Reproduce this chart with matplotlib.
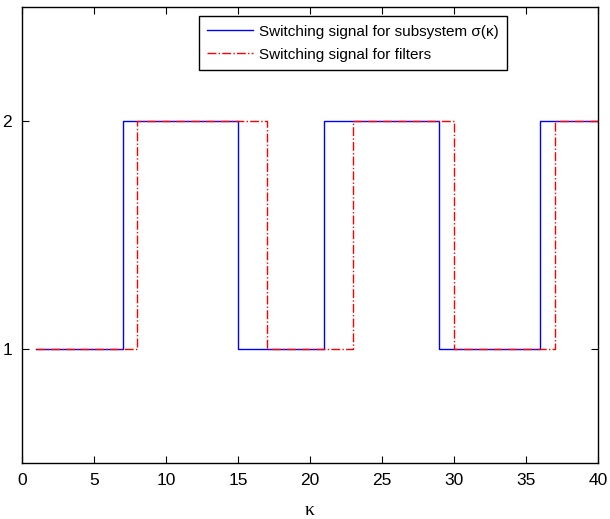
import matplotlib
matplotlib.use("Agg")
from matplotlib import pyplot as plt

k = list(range(1, 41))
sigma = [1, 1, 1, 1, 1, 1,
         2, 2, 2, 2, 2, 2, 2, 2,
         1, 1, 1, 1, 1, 1,
         2, 2, 2, 2, 2, 2, 2, 2,
         1, 1, 1, 1, 1, 1, 1,
         2, 2, 2, 2, 2]
filters = [1, 1, 1, 1, 1, 1, 1,
           2, 2, 2, 2, 2, 2, 2, 2, 2,
           1, 1, 1, 1, 1, 1,
           2, 2, 2, 2, 2, 2, 2,
           1, 1, 1, 1, 1, 1, 1,
           2, 2, 2, 2]
xticks = [0, 5, 10, 15, 20, 25, 30, 35, 40]
yticks = [1, 2]

plt.rcParams['font.family'] = ['Liberation Sans', 'DejaVu Sans']

fig = plt.figure(figsize=(6.1, 5.19), dpi=100)
ax = fig.add_axes([0.036, 0.108, 0.944, 0.8785])

ax.plot(k, sigma, '-', color='blue', lw=1.0, drawstyle='steps-post',
        label='Switching signal for subsystem σ(κ)')
ax.plot(k, filters, '-.', color='red', lw=1.0, drawstyle='steps-post',
        label='Switching signal for filters')

ax.set_xlim(0, 40)
ax.set_ylim(0.5, 2.5)
ax.set_xticks(xticks)
ax.set_yticks(yticks)
ax.tick_params(direction='in', top=True, right=True, labelsize=12.5, length=5, pad=7)
for s in ax.spines.values():
    s.set_linewidth(1.0)

ax.set_xlabel('κ', fontsize=14, family=['Liberation Serif', 'DejaVu Serif'], labelpad=10)

leg = ax.legend(loc='upper right', bbox_to_anchor=(0.842, 0.98), borderaxespad=0,
                fontsize=11, fancybox=False, framealpha=1, edgecolor='black',
                handlelength=2.95, handletextpad=0.4, borderpad=0.55, labelspacing=0.6)
leg.get_frame().set_linewidth(1.0)

fig.savefig('out.png', dpi=100)
